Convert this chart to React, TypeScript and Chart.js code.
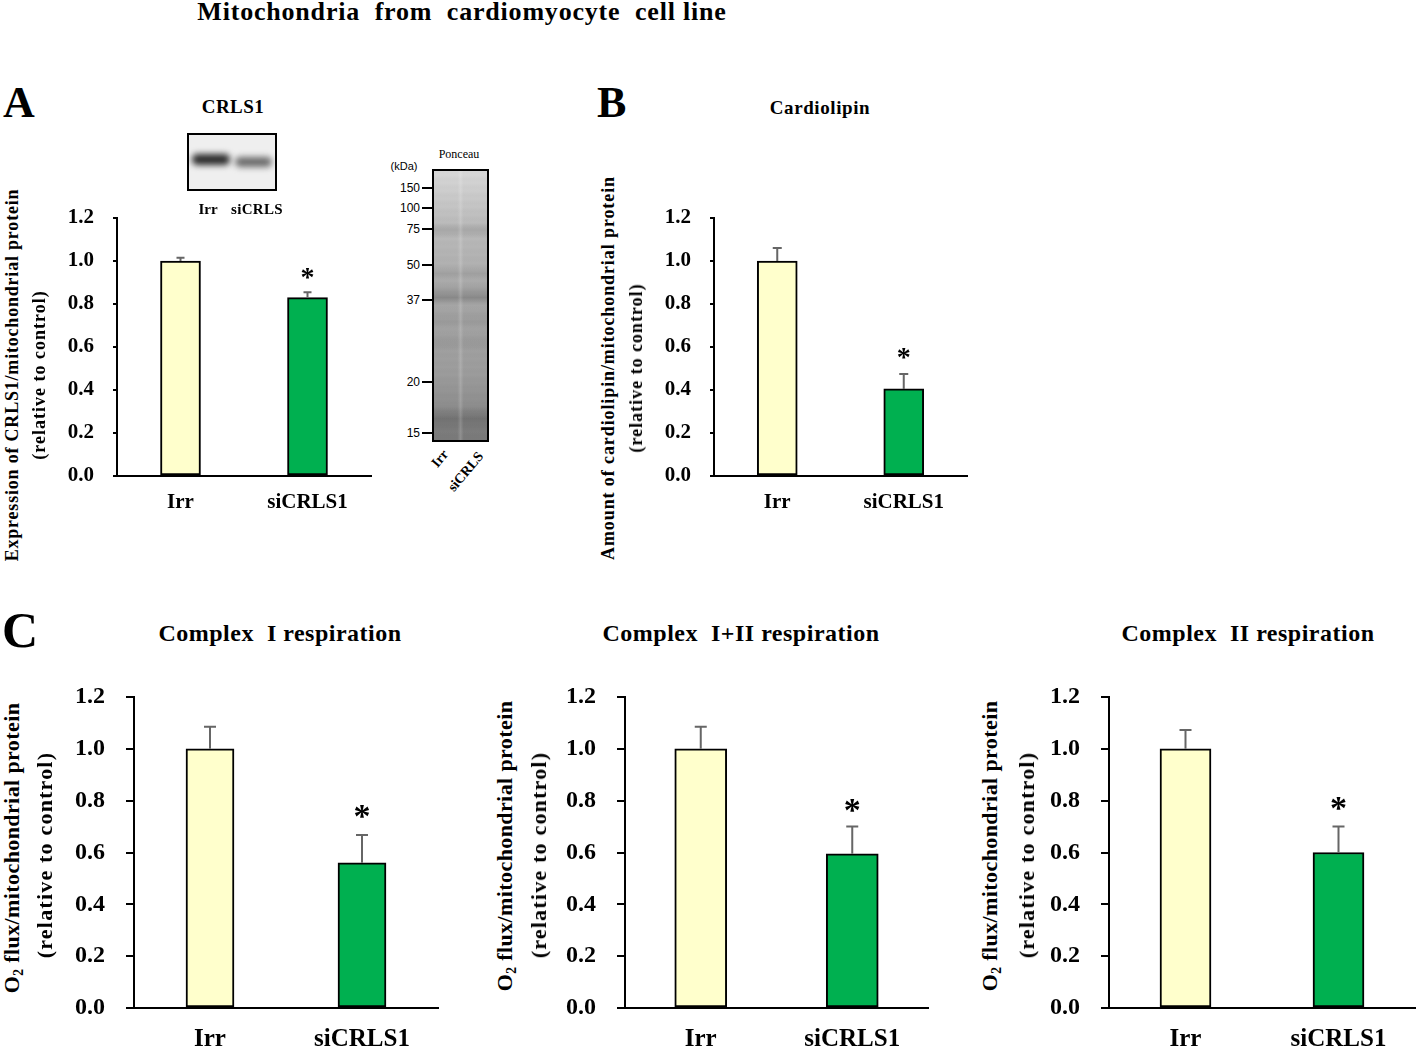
import React, { useEffect, useRef } from "react";
import { Chart, registerables } from "chart.js";

Chart.register(...registerables);

// ---------------- data ----------------
const groups = ["Irr", "siCRLS1"];
const significant = [false, true];
const barColors = ["#FFFFCC", "#00B050"];

const crls1Means = [1.0, 0.83];
const crls1Errors = [0.015, 0.025];

const cardiolipinMeans = [1.0, 0.405];
const cardiolipinErrors = [0.06, 0.07];

const complexIMeans = [1.0, 0.56];
const complexIErrors = [0.085, 0.108];

const complexI_IIMeans = [1.0, 0.595];
const complexI_IIErrors = [0.085, 0.105];

const complexIIMeans = [1.0, 0.6];
const complexIIErrors = [0.073, 0.1];

const yMin = 0;
const yMax = 1.2;
const yStep = 0.2;

const kdaLabels = ["150", "100", "75", "50", "37", "20", "15"];

// ---------------- helpers ----------------
const SERIF = '"Liberation Serif", "Times New Roman", Times, serif';
const SANS = '"Liberation Sans", Arial, Helvetica, sans-serif';

type Spec = {
  plotLeft: number;
  plotTop: number;
  plotRight: number;
  plotBottom: number;
  means: number[];
  errors: number[];
  barThickness: number;
  tickFont: number;
  tickLength: number;
  tickPad: number;
  xFont: number;
  xPad: number;
  capWidth: number;
  starSize: number;
  starGap: number;
  padRight: number;
};

function BarPanel({ spec }: { spec: Spec }) {
  const ref = useRef<HTMLCanvasElement | null>(null);
  const yW = 76;
  const padTop = 48;
  const xH = 42;
  const width = spec.plotRight - spec.plotLeft + yW + spec.padRight;
  const height = spec.plotBottom - spec.plotTop + padTop + xH;

  useEffect(() => {
    if (!ref.current) return;
    const errorPlugin = {
      id: "errorBars",
      afterDatasetsDraw(chart: any) {
        const { ctx } = chart;
        const x = chart.scales.x;
        const y = chart.scales.y;
        ctx.save();
        spec.means.forEach((m, i) => {
          const cx = x.getPixelForValue(i);
          const yb = y.getPixelForValue(m);
          const yt = y.getPixelForValue(m + spec.errors[i]);
          ctx.strokeStyle = "#666666";
          ctx.lineWidth = 2;
          ctx.beginPath();
          ctx.moveTo(cx, yb);
          ctx.lineTo(cx, yt);
          ctx.moveTo(cx - spec.capWidth / 2, yt);
          ctx.lineTo(cx + spec.capWidth / 2, yt);
          ctx.stroke();
          if (significant[i]) {
            ctx.fillStyle = "#000";
            ctx.font = `bold ${spec.starSize}px ${SERIF}`;
            ctx.textAlign = "center";
            ctx.textBaseline = "alphabetic";
            ctx.fillText("*", cx, yt - spec.starGap + 0.48 * spec.starSize);
          }
        });
        ctx.restore();
      },
    };

    const chart = new Chart(ref.current, {
      type: "bar",
      data: {
        labels: groups,
        datasets: [
          {
            data: spec.means,
            backgroundColor: barColors,
            borderColor: "#000",
            borderWidth: 2,
            borderSkipped: false,
            barThickness: spec.barThickness,
          },
        ],
      },
      options: {
        responsive: false,
        maintainAspectRatio: false,
        animation: false,
        devicePixelRatio: 1,
        layout: { padding: { top: padTop, right: spec.padRight, left: 0, bottom: 0 } },
        plugins: {
          legend: { display: false },
          tooltip: { enabled: false },
          title: { display: false },
        },
        scales: {
          x: {
            type: "category",
            offset: true,
            grid: { display: false, drawTicks: false },
            border: { display: true, color: "#000", width: 2 },
            ticks: {
              color: "#000",
              font: { family: SERIF, size: spec.xFont, weight: "bold" },
              padding: spec.xPad,
              maxRotation: 0,
              autoSkip: false,
            },
            afterFit: (s: any) => {
              s.height = xH;
            },
          },
          y: {
            min: yMin,
            max: yMax,
            ticks: {
              stepSize: yStep,
              color: "#000",
              font: { family: SERIF, size: spec.tickFont, weight: "bold" },
              padding: spec.tickPad,
              callback: (v: any) => Number(v).toFixed(1),
            },
            grid: {
              display: true,
              drawOnChartArea: false,
              drawTicks: true,
              tickLength: spec.tickLength,
              color: "#000",
              lineWidth: 2,
            },
            border: { display: true, color: "#000", width: 2 },
            afterFit: (s: any) => {
              s.width = yW;
            },
          },
        },
      } as any,
      plugins: [errorPlugin],
    });
    return () => chart.destroy();
  }, []);

  return (
    <canvas
      ref={ref}
      width={width}
      height={height}
      style={{
        position: "absolute",
        left: spec.plotLeft - yW,
        top: spec.plotTop - padTop,
        width,
        height,
      }}
    />
  );
}

function Label({
  x,
  y,
  size,
  children,
  align = "center",
  weight = "bold",
  family = SERIF,
  style = {},
}: any) {
  const tx = align === "center" ? "-50%" : align === "right" ? "-100%" : "0";
  return (
    <div
      style={{
        position: "absolute",
        left: x,
        top: y,
        transform: `translate(${tx},-50%)`,
        fontFamily: family,
        fontSize: size,
        fontWeight: weight,
        lineHeight: 1,
        whiteSpace: "nowrap",
        color: "#000",
        ...style,
      }}
    >
      {children}
    </div>
  );
}

function VLabel({ x, y, size, children, style = {} }: any) {
  return (
    <div
      style={{
        position: "absolute",
        left: x,
        top: y,
        transform: "translate(-50%,-50%) rotate(-90deg)",
        fontFamily: SERIF,
        fontSize: size,
        fontWeight: "bold",
        lineHeight: 1,
        whiteSpace: "nowrap",
        color: "#000",
        ...style,
      }}
    >
      {children}
    </div>
  );
}

function O2() {
  return (
    <>
      O
      <span style={{ fontSize: "0.62em", position: "relative", top: "0.3em" }}>2</span>
    </>
  );
}

const specA: Spec = {
  plotLeft: 117, plotTop: 218, plotRight: 371, plotBottom: 476,
  means: crls1Means, errors: crls1Errors, barThickness: 40,
  tickFont: 21, tickLength: 4, tickPad: 19, xFont: 21, xPad: 14,
  capWidth: 8, starSize: 28, starGap: 20, padRight: 4,
};
const specB: Spec = {
  plotLeft: 714, plotTop: 218, plotRight: 967, plotBottom: 476,
  means: cardiolipinMeans, errors: cardiolipinErrors, barThickness: 40,
  tickFont: 21, tickLength: 4, tickPad: 19, xFont: 21, xPad: 14,
  capWidth: 9, starSize: 28, starGap: 21, padRight: 4,
};
const specC1: Spec = {
  plotLeft: 134, plotTop: 697, plotRight: 438, plotBottom: 1008,
  means: complexIMeans, errors: complexIErrors, barThickness: 48,
  tickFont: 24, tickLength: 8, tickPad: 21, xFont: 25, xPad: 17,
  capWidth: 12, starSize: 34, starGap: 24, padRight: 4,
};
const specC2: Spec = {
  plotLeft: 625, plotTop: 697, plotRight: 928, plotBottom: 1008,
  means: complexI_IIMeans, errors: complexI_IIErrors, barThickness: 52,
  tickFont: 24, tickLength: 8, tickPad: 21, xFont: 25, xPad: 17,
  capWidth: 12, starSize: 34, starGap: 22, padRight: 4,
};
const specC3: Spec = {
  plotLeft: 1109, plotTop: 697, plotRight: 1415, plotBottom: 1008,
  means: complexIIMeans, errors: complexIIErrors, barThickness: 51,
  tickFont: 24, tickLength: 8, tickPad: 21, xFont: 25, xPad: 17,
  capWidth: 12, starSize: 34, starGap: 24, padRight: 3,
};

const kdaY = [188, 208, 229, 265, 300, 382, 433];

export default function App() {
  return (
    <div
      style={{
        position: "fixed",
        left: 0,
        top: 0,
        width: 1418,
        height: 1051,
        overflow: "hidden",
        background: "#fff",
      }}
    >
      <BarPanel spec={specA} />
      <BarPanel spec={specB} />
      <BarPanel spec={specC1} />
      <BarPanel spec={specC2} />
      <BarPanel spec={specC3} />

      {/* overall title */}
      <Label x={462} y={12} size={26} style={{ letterSpacing: 0.8 }}>
        Mitochondria&nbsp; from&nbsp; cardiomyocyte&nbsp; cell line
      </Label>

      {/* panel letters */}
      <Label x={3} y={103} size={44} align="left">A</Label>
      <Label x={597} y={103} size={44} align="left">B</Label>
      <Label x={2} y={630} size={50} align="left">C</Label>

      {/* Panel A */}
      <Label x={233} y={106} size={19} style={{ letterSpacing: 0.5 }}>CRLS1</Label>
      <div
        style={{
          position: "absolute",
          left: 187,
          top: 133,
          width: 86,
          height: 54,
          border: "2px solid #000",
          background: "#efefef",
          overflow: "hidden",
        }}
      >
        <div style={{ position: "absolute", left: 3, top: 19, width: 38, height: 11, background: "#2a2a2a", filter: "blur(3px)", borderRadius: 5 }} />
        <div style={{ position: "absolute", left: 46, top: 22, width: 37, height: 10, background: "#6a6a6a", filter: "blur(3px)", borderRadius: 5 }} />
      </div>
      <Label x={208} y={209} size={15}>Irr</Label>
      <Label x={257} y={209} size={15} style={{ letterSpacing: 0.3 }}>siCRLS</Label>
      <VLabel x={12} y={375} size={18} style={{ letterSpacing: 0.8 }}>
        Expression of CRLS1/mitochondrial protein
      </VLabel>
      <VLabel x={39} y={375} size={18} style={{ letterSpacing: 1 }}>(relative to control)</VLabel>

      {/* Ponceau */}
      <Label x={459} y={154} size={12} weight="normal">Ponceau</Label>
      <Label x={404} y={166} size={11} weight="normal" family={SANS}>(kDa)</Label>
      <div
        style={{
          position: "absolute",
          left: 432,
          top: 169,
          width: 53,
          height: 269,
          border: "2px solid #000",
          background: [
            "linear-gradient(to right, rgba(255,255,255,0) 44%, rgba(255,255,255,0.16) 50%, rgba(255,255,255,0) 56%)",
            "linear-gradient(to bottom, rgba(0,0,0,0) 19%, rgba(0,0,0,0.1) 22%, rgba(0,0,0,0) 25%, rgba(0,0,0,0) 35%, rgba(0,0,0,0.08) 38%, rgba(0,0,0,0) 41%, rgba(0,0,0,0.07) 44%, rgba(0,0,0,0.18) 47%, rgba(0,0,0,0) 50%, rgba(0,0,0,0.06) 56%, rgba(0,0,0,0) 59%, rgba(0,0,0,0.05) 64%, rgba(0,0,0,0) 67%, rgba(0,0,0,0) 87%, rgba(0,0,0,0.16) 92%, rgba(0,0,0,0.05) 97%)",
            "repeating-linear-gradient(to bottom, rgba(0,0,0,0.015) 0px, rgba(0,0,0,0) 4px, rgba(0,0,0,0.015) 8px)",
            "linear-gradient(to bottom, #d8d8d8 0%, #bdbdbd 18%, #a9a9a9 45%, #9c9c9c 75%, #7f7f7f 100%)",
          ].join(", "),
        }}
      />
      {kdaLabels.map((k, i) => (
        <React.Fragment key={k}>
          <Label x={420} y={kdaY[i]} size={12} weight="normal" family={SANS} align="right">
            {k}
          </Label>
          <div style={{ position: "absolute", left: 422, top: kdaY[i] - 1, width: 10, height: 2, background: "#000" }} />
        </React.Fragment>
      ))}
      <div
        style={{
          position: "absolute",
          left: 446,
          top: 452,
          transform: "translate(-100%,-50%) rotate(-50deg)",
          transformOrigin: "100% 50%",
          fontFamily: SERIF,
          fontWeight: "bold",
          fontSize: 14,
          lineHeight: 1,
          whiteSpace: "nowrap",
        }}
      >
        Irr
      </div>
      <div
        style={{
          position: "absolute",
          left: 481,
          top: 454,
          transform: "translate(-100%,-50%) rotate(-50deg)",
          transformOrigin: "100% 50%",
          fontFamily: SERIF,
          fontWeight: "bold",
          fontSize: 14,
          lineHeight: 1,
          whiteSpace: "nowrap",
        }}
      >
        siCRLS
      </div>

      {/* Panel B */}
      <Label x={820} y={107} size={19} style={{ letterSpacing: 0.6 }}>Cardiolipin</Label>
      <VLabel x={608} y={368} size={18} style={{ letterSpacing: 0.9 }}>
        Amount of cardiolipin/mitochondrial protein
      </VLabel>
      <VLabel x={636} y={368} size={18} style={{ letterSpacing: 1 }}>(relative to control)</VLabel>

      {/* Panel C */}
      <Label x={280} y={633} size={24} style={{ letterSpacing: 0.5 }}>Complex&nbsp; I respiration</Label>
      <Label x={741} y={633} size={24} style={{ letterSpacing: 0.5 }}>Complex&nbsp; I+II respiration</Label>
      <Label x={1248} y={633} size={24} style={{ letterSpacing: 0.5 }}>Complex&nbsp; II respiration</Label>

      <VLabel x={12} y={848} size={22} style={{ letterSpacing: 0.4 }}>
        <O2 /> flux/mitochondrial protein
      </VLabel>
      <VLabel x={45} y={855} size={22} style={{ letterSpacing: 1.2 }}>(relative to control)</VLabel>
      <VLabel x={505} y={846} size={22} style={{ letterSpacing: 0.4 }}>
        <O2 /> flux/mitochondrial protein
      </VLabel>
      <VLabel x={539} y={855} size={22} style={{ letterSpacing: 1.2 }}>(relative to control)</VLabel>
      <VLabel x={990} y={846} size={22} style={{ letterSpacing: 0.4 }}>
        <O2 /> flux/mitochondrial protein
      </VLabel>
      <VLabel x={1027} y={855} size={22} style={{ letterSpacing: 1.2 }}>(relative to control)</VLabel>
    </div>
  );
}
